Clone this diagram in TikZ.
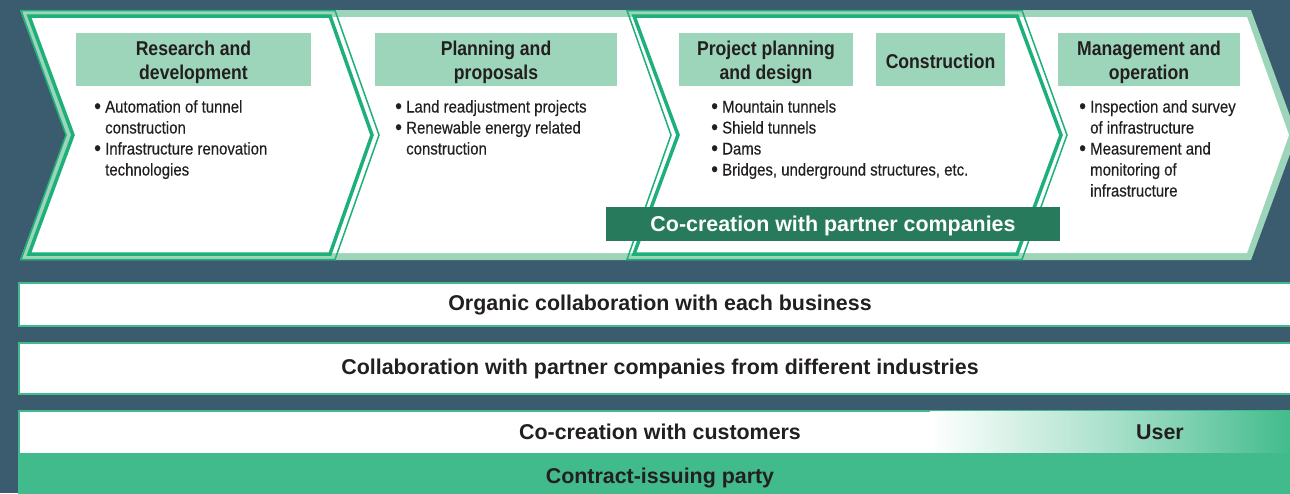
\documentclass[tikz,border=0pt]{standalone}
\usepackage{fontspec}
\setmainfont{Liberation Sans}[FakeStretch=0.88]
\newfontfamily\barfont{Liberation Sans}
\newfontfamily\bulfont{Liberation Sans}[FakeStretch=0.88, FakeBold=0.35]
\definecolor{bg}{HTML}{3A5C6E}
\definecolor{lgreen}{HTML}{9DD5BA}
\definecolor{hgreen}{HTML}{1EB07B}
\definecolor{dgreen}{HTML}{277B5C}
\definecolor{mgreen}{HTML}{41BB8C}
\definecolor{txt}{HTML}{231F20}
\newcommand{\bitem}[1]{\makebox[11pt][l]{\raisebox{-1pt}{\fontsize{22}{21}\selectfont•}}#1}
\newcommand{\bcont}[1]{\hspace*{11pt}#1}
\begin{document}
\begin{tikzpicture}[x=1pt,y=-1pt,
  hbox/.style={fill=lgreen, inner sep=0pt},
  htxt/.style={text=txt, align=center, inner sep=0pt, font=\fontsize{20}{24.5}\selectfont\bfseries},
  blist/.style={text=txt, align=left, inner sep=0pt, anchor=base west, font=\bulfont\fontsize{17}{21}\selectfont},
  bartxt/.style={text=txt, inner sep=0pt, anchor=base, font=\barfont\fontsize{21.4}{24}\selectfont\bfseries},
  barbox/.style={fill=white, draw=mgreen, line width=1.5pt},
  thickseg/.style={draw=hgreen, line width=3.5pt, line join=miter},
  thinseg/.style={draw=hgreen, line width=1.5pt, line join=miter}]
\useasboundingbox (0,0) rectangle (1290,493);
\fill[bg] (0,0) rectangle (1290,493);
% chevron band
\fill[lgreen] (20,10) -- (1251,10) -- (1297,135) -- (1251,260) -- (20,260) -- (66,135) -- cycle;
\fill[white] (28,17) -- (1247,17) -- (1289,135) -- (1247,253) -- (28,253) -- (72,135) -- cycle;
% highlighted segment 1
\draw[thinseg] (21,10.5) -- (335,10.5) -- (379,135) -- (335,259.5) -- (21,259.5) -- (66,135) -- cycle;
\draw[thickseg] (29,16) -- (330,16) -- (372,135) -- (330,254) -- (29,254) -- (73,135) -- cycle;
% highlighted segment 3
\draw[thinseg] (627,10.5) -- (1022,10.5) -- (1067,135) -- (1022,259.5) -- (627,259.5) -- (671,135) -- cycle;
\draw[thickseg] (634,16) -- (1017,16) -- (1061,135) -- (1017,254) -- (634,254) -- (678,135) -- cycle;
% headers (base anchor = baseline of last line)
\node[hbox, minimum width=235pt, minimum height=53pt] (h1) at (193.5,59.5) {};
\node[htxt, anchor=base] (h1t) at (193.5,79.5) {Research and\\development};
\node[hbox, minimum width=242pt, minimum height=53pt] (h2) at (496,59.5) {};
\node[htxt, anchor=base] (h2t) at (496,79.5) {Planning and\\proposals};
\node[hbox, minimum width=174pt, minimum height=53pt] (h3) at (766,59.5) {};
\node[htxt, anchor=base] (h3t) at (766,79.5) {Project planning\\and design};
\node[hbox, minimum width=129pt, minimum height=53pt] (h4) at (940.5,59.5) {};
\node[htxt, anchor=base] (h4t) at (940.5,68) {Construction};
\node[hbox, minimum width=182pt, minimum height=53pt] (h5) at (1149,59.5) {};
\node[htxt, anchor=base] (h5t) at (1149,79.5) {Management and\\operation};
% bullet lists (base anchor = baseline of last line)
\node[blist] (l1) at (94,175.5) {\bitem{Automation of tunnel}\\\bcont{construction}\\\bitem{Infrastructure renovation}\\\bcont{technologies}};
\node[blist] (l2) at (395,154.5) {\bitem{Land readjustment projects}\\\bitem{Renewable energy related}\\\bcont{construction}};
\node[blist] (l3) at (711,175.5) {\bitem{Mountain tunnels}\\\bitem{Shield tunnels}\\\bitem{Dams}\\\bitem{Bridges, underground structures, etc.}};
\node[blist] (l4) at (1079,196.5) {\bitem{Inspection and survey}\\\bcont{of infrastructure}\\\bitem{Measurement and}\\\bcont{monitoring of}\\\bcont{infrastructure}};
% co-creation with partner companies
\node[fill=dgreen, inner sep=0pt, minimum width=454pt, minimum height=34pt] (cp) at (833,224) {};
\node[bartxt, text=white] (cpt) at (833,231.5) {Co-creation with partner companies};
% bars
\node[barbox, minimum width=1280pt, minimum height=43pt, anchor=north west] (b1) at (18,282) {};
\node[bartxt] (b1t) at (660,310.5) {Organic collaboration with each business};
\node[barbox, minimum width=1280pt, minimum height=51pt, anchor=north west] (b2) at (18,342) {};
\node[bartxt] (b2t) at (660,374.5) {Collaboration with partner companies from different industries};
\node[barbox, minimum width=1280pt, minimum height=44pt, anchor=north west] (b3) at (18,410) {};
\shade[left color=white, right color=mgreen, middle color=mgreen!45] (930,411.6) rectangle (1292,453);
\node[fill=mgreen, inner sep=0pt, minimum width=1280pt, minimum height=41pt, anchor=north west] (b4) at (18,453) {};
\node[bartxt] (b3t) at (660,439.5) {Co-creation with customers};
\node[bartxt] (b3u) at (1160,439.5) {User};
\node[bartxt] (b4t) at (660,483.5) {Contract-issuing party};
\end{tikzpicture}
\end{document}
